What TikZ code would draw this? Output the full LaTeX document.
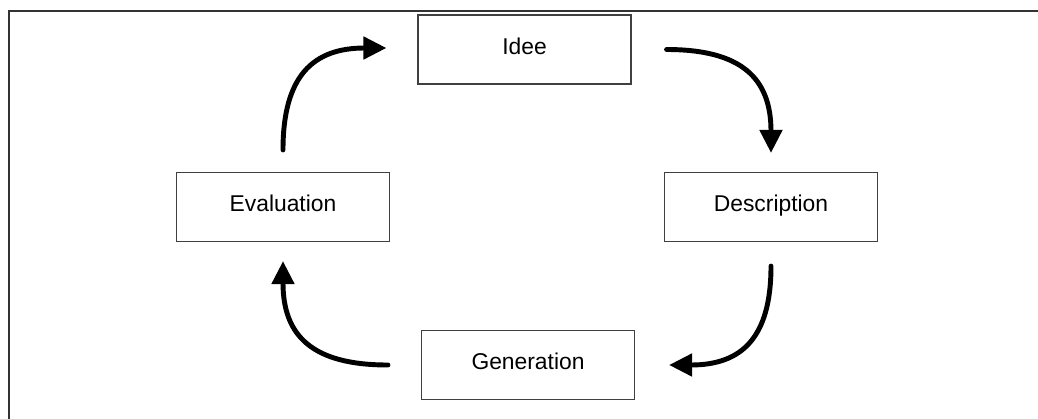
\documentclass[tikz,border=0pt]{standalone}
\usepackage{fontspec}
\setmainfont{Liberation Sans}
\usetikzlibrary{arrows.meta}

\begin{document}
\begin{tikzpicture}[x=0.02cm, y=-0.02cm,
  main node/.style={draw=black!75, line width=0.7pt, minimum width=4.26cm,
    minimum height=1.38cm, inner sep=0pt, text height=0.72em, text depth=0.2em,
    font=\fontsize{13}{15}\selectfont},
  cycle arrow/.style={line width=2.8pt, line cap=round, looseness=1.3,
    -{Triangle[length=0.46cm,width=0.44cm]}}]
\useasboundingbox (0,0) rectangle (1038,419);
\draw[black!80, line width=0.9pt] (9,430) -- (9,11) -- (1045,11);

\node[main node] (idee) at (524.5,49.5) {Idee};
\node[main node] (eval) at (283,207) {Evaluation};
\node[main node] (desc) at (771,207) {Description};
\node[main node] (gen)  at (528,365) {Generation};

\draw[cycle arrow] ([yshift=0.44cm]eval.north) to[out=90, in=180]
  ([xshift=-0.62cm, yshift=0.03cm]idee.west);
\draw[cycle arrow] ([xshift=0.70cm]idee.east) to[out=0, in=90]
  ([yshift=0.38cm]desc.north);
\draw[cycle arrow] ([yshift=-0.48cm]desc.south) to[out=270, in=0]
  ([xshift=0.68cm]gen.east);
\draw[cycle arrow] ([xshift=-0.66cm]gen.west) to[out=180, in=270]
  ([yshift=-0.38cm]eval.south);
\end{tikzpicture}
\end{document}
